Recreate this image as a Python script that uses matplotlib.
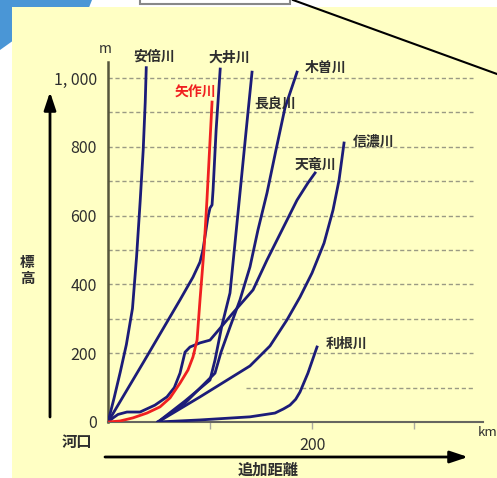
import matplotlib
matplotlib.use("Agg")
import matplotlib.pyplot as plt
from matplotlib.patches import Rectangle, Polygon

plt.rcParams['font.family'] = ['Noto Sans CJK JP', 'DejaVu Sans']

# river profiles: distance from mouth (km) / elevation (m)
abe_km = [0, 6, 12, 18, 24, 28, 31.5, 34.5, 36.5, 37.5]
abe_m = [0, 70, 145, 225, 330, 480, 640, 790, 930, 1030]

yahagi_km = [0, 11.8, 24.5, 38.2, 51, 60.8, 70.6, 78.4, 83.3, 87.3, 90.2, 94.1, 97, 102]
yahagi_m = [0, 3, 12, 26, 44, 70, 113, 151, 189, 238, 355, 500, 645, 930]

oi_km = [0, 35, 70.6, 83.3, 90.2, 93.1, 98, 100, 102, 103, 106, 110]
oi_m = [0, 175, 355, 421, 465, 500, 596, 622, 631, 674, 849, 1026]

tenryu_km = [0, 5, 9.8, 18.6, 31.4, 46, 57.8, 65, 70.6, 75.5, 80.4, 90.2, 100, 106.9,
             122.5, 142.2, 155.9, 170.6, 185.3, 196, 203]
tenryu_m = [0, 12, 22, 29, 29, 49, 73, 100, 142, 203, 218, 230, 238, 262,
            317, 384, 471, 558, 645, 695, 724]

nagara_km = [49, 75.5, 100, 104.9, 111.8, 119.6, 124.5, 129.4, 135.3, 141.2]
nagara_m = [0, 61, 122, 180, 282, 375, 520, 666, 843, 1017]

kiso_km = [49, 75.5, 104.9, 110.8, 119.6, 129.4, 139.2, 147, 155.9, 164.7, 173.5, 185.3]
kiso_m = [0, 55, 142, 203, 276, 355, 451, 558, 666, 791, 913, 1017]

shinano_km = [49, 90.2, 139.2, 158.8, 175.5, 188.2, 200, 211.8, 220.6, 226.5, 231.4]
shinano_m = [0, 73, 163, 221, 297, 363, 433, 520, 616, 703, 811]

tone_km = [49, 90.2, 139.2, 163.7, 172, 178.4, 184, 188.2, 196, 204.9]
tone_m = [0, 6, 15, 26, 38, 49, 66, 87, 142, 218]

river_names = ['安倍川', '大井川', '木曽川', '長良川', '信濃川', '天竜川', '利根川']
label_km = [45, 118.6, 213.7, 163.7, 260, 203, 234]
label_m = [1061, 1058, 1029, 927, 814, 747, 227]

y_ticks = [0, 200, 400, 600, 800, 1000]
y_ticklabels = ['0', '200', '400', '600', '800', '1, 000']
grid_levels = [200, 300, 400, 500, 600, 700, 800, 900, 1000]

NAVY = '#1c1c78'
RED = '#f02020'
TXT = '#2e2e2e'

W, H = 497, 478
fig = plt.figure(figsize=(W / 100, H / 100), dpi=100)
fig.patch.set_facecolor('white')

# background decoration in pixel coordinates
bg = fig.add_axes([0, 0, 1, 1], zorder=0)
bg.set_xlim(0, W); bg.set_ylim(H, 0); bg.axis('off')
bg.add_patch(Polygon([(0, 0), (92, 0), (88, 10), (60, 14), (30, 20), (14, 40), (0, 50)],
                     closed=True, facecolor='#4a96d6', edgecolor='none'))
bg.add_patch(Rectangle((12, 7), W - 12, H - 7, facecolor='#ffffc4', edgecolor='none'))
bg.add_patch(Rectangle((140, -3), 150, 7, facecolor='white', edgecolor='#888888', lw=1.5))
bg.plot([293, 497], [0, 74], color='black', lw=1.5)
bg.annotate('', xy=(50, 92), xytext=(50, 417),
            arrowprops=dict(arrowstyle='-|>,head_length=0.9,head_width=0.3', mutation_scale=12,
                            lw=2, color='black', shrinkA=0, shrinkB=0))
bg.annotate('', xy=(468, 457), xytext=(105, 457),
            arrowprops=dict(arrowstyle='-|>,head_length=0.9,head_width=0.3', mutation_scale=12,
                            lw=2, color='black', shrinkA=0, shrinkB=0))
bg.text(27, 270, '標\n高', ha='center', va='center', fontsize=10.5, color=TXT,
        linespacing=1.0, weight='bold')
bg.text(268, 470, '追加距離', ha='center', va='center', fontsize=11, color=TXT, weight='bold')
bg.text(77, 442, '河口', ha='center', va='center', fontsize=11, color=TXT, weight='bold')
bg.text(488, 433, 'km', ha='center', va='center', fontsize=9.5, color=TXT)
bg.text(105, 49, 'm', ha='center', va='center', fontsize=10, color=TXT)

# chart axes
x0, x1, y0, y1 = 108, 483, 422, 62
ax = fig.add_axes([x0 / W, (H - y0) / H, (x1 - x0) / W, (y0 - y1) / H], zorder=1)
ax.set_facecolor('none')
ax.set_xlim(0, (x1 - x0) / 1.02)
ax.set_ylim(0, (y0 - y1) / 0.344)

ax.hlines(grid_levels, 0, 358, colors='#9a9a84', linestyles=(0, (3, 2)), lw=1, zorder=1)
ax.hlines([100], 135, 358, colors='#9a9a84', linestyles=(0, (3, 2)), lw=1, zorder=1)

for km, m in [(abe_km, abe_m), (oi_km, oi_m), (tenryu_km, tenryu_m), (nagara_km, nagara_m),
              (kiso_km, kiso_m), (shinano_km, shinano_m), (tone_km, tone_m)]:
    ax.plot(km, m, color=NAVY, lw=2, solid_joinstyle='round', zorder=3)
ax.plot(yahagi_km, yahagi_m, color=RED, lw=2, solid_joinstyle='round', zorder=4)

for name, kx, my in zip(river_names, label_km, label_m):
    ax.text(kx, my, name, ha='center', va='center', fontsize=10, color=TXT,
            weight='bold', clip_on=False)
ax.text(85.3, 956, '矢作川', ha='center', va='center', fontsize=10, color=RED, weight='bold')

for s in ['top', 'right']:
    ax.spines[s].set_visible(False)
ax.spines['left'].set_color('#55553c'); ax.spines['left'].set_linewidth(1.8)
ax.spines['bottom'].set_color('#666660'); ax.spines['bottom'].set_linewidth(1.5)

ax.set_yticks(y_ticks)
ax.set_yticklabels(y_ticklabels, fontsize=11.5, color=TXT)
ax.tick_params(axis='y', length=0, pad=8)
ax.set_xticks([100, 200, 300])
ax.set_xticklabels(['', '200', ''], fontsize=11.5, color=TXT)
ax.tick_params(axis='x', length=5, width=1, color='#aaaaa0', direction='out', pad=6)

fig.savefig('out.png', dpi=100)
